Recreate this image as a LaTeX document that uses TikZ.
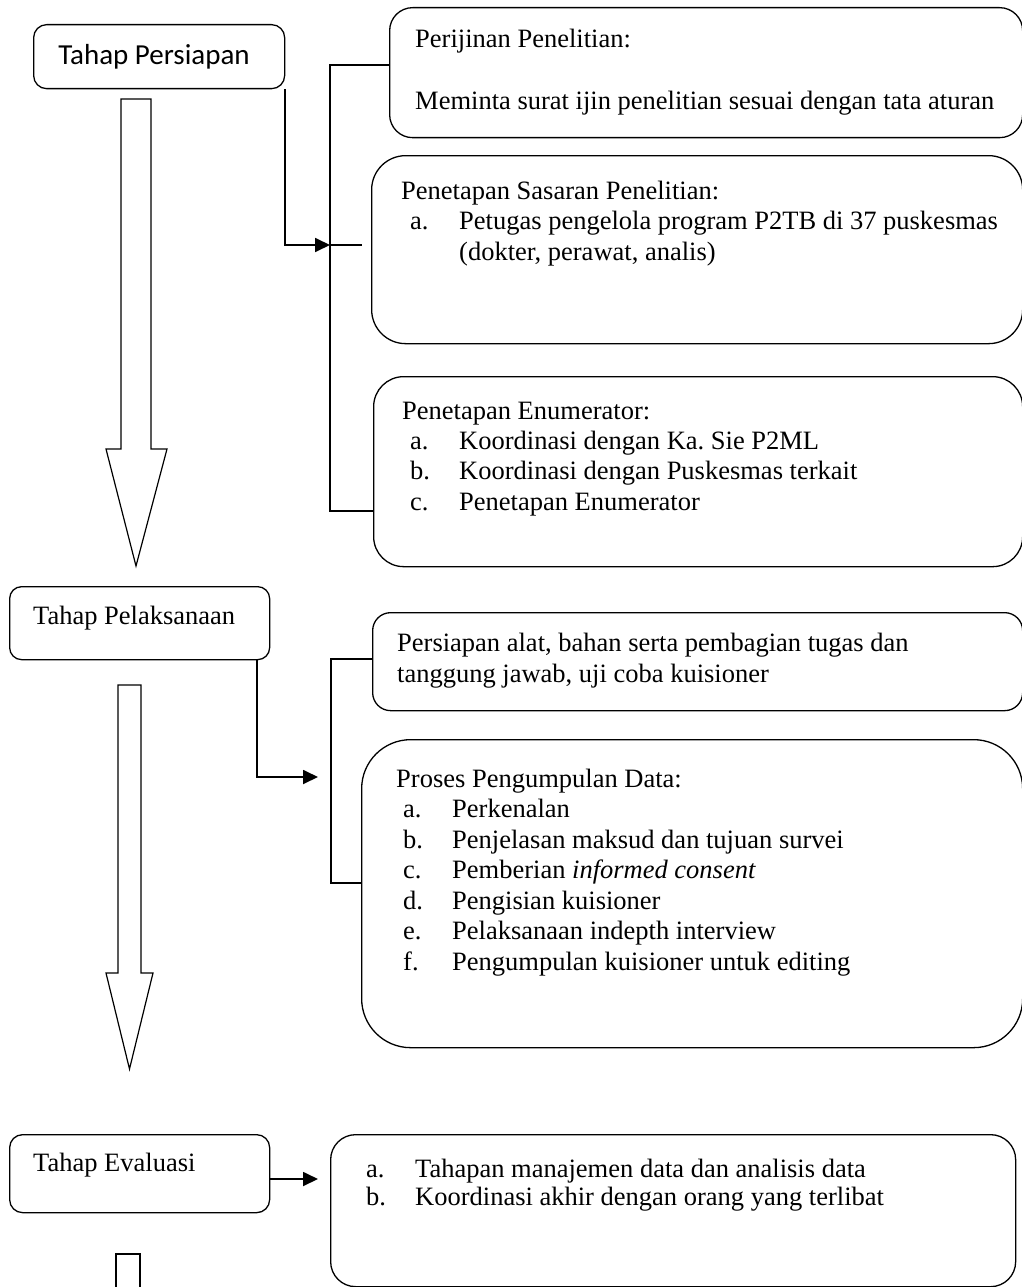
\documentclass[tikz,border=0pt]{standalone}
\usepackage{fontspec}
\setmainfont{Liberation Serif}
\newfontfamily\carlito{Carlito}
\usetikzlibrary{arrows.meta,calc}
\frenchspacing

\tikzset{
  stagebox/.style={draw, line width=1.3pt, inner sep=0pt, anchor=north west},
  infobox/.style={draw, line width=1.3pt, inner sep=0pt, anchor=north west},
  txt/.style={anchor=base west, inner sep=0pt, font=\fontsize{26.5}{30.5}\selectfont},
  stagetxt/.style={anchor=base, inner sep=0pt, font=\carlito\fontsize{29}{33}\selectfont},
  bracket/.style={line width=1.3pt},
  conn/.style={line width=1.8pt, -{Triangle[length=15pt,width=14pt]}},
  blockarrow/.style={draw, line width=1.2pt, line join=miter},
}

\begin{document}
\begin{tikzpicture}[x=1pt,y=-1pt]
\useasboundingbox (0,0) rectangle (1021,1287);

% ---- stage boxes (left column) ----
\node[stagebox, rounded corners=13pt, minimum width=251pt, minimum height=64pt] (tp) at (33,24) {};
\node[stagetxt] (tptxt) at (154,65) {Tahap Persiapan};

\node[stagebox, rounded corners=12pt, minimum width=260pt, minimum height=73pt] (tl) at (9,586) {};
\node[txt] (tltxt) at (33,624) {Tahap Pelaksanaan};

\node[stagebox, rounded corners=13pt, minimum width=260pt, minimum height=78pt] (te) at (9,1134) {};
\node[txt] (tetxt) at (33,1171.5) {Tahap Evaluasi};

% ---- block arrows between stages ----
\draw[blockarrow] (121,99) -- (151,99) -- (151,449) -- (167,449) -- (136,566)
  -- (106,449) -- (121,449) -- cycle;
\draw[blockarrow] (118,685) -- (141,685) -- (141,973) -- (153,973) -- (129.5,1069)
  -- (106,973) -- (118,973) -- cycle;
\draw[line width=1.2pt] (116,1300) -- (116,1254) -- (140,1254) -- (140,1300);

% ---- preparation detail boxes ----
\node[infobox, rounded corners=23pt, minimum width=633pt, minimum height=130pt] (b1) at (389,7) {};
\node[txt] (b1t) at (415,48) {Perijinan Penelitian:};
\node[txt] (b1l) at (415,110) {Meminta surat ijin penelitian sesuai dengan tata aturan};

\node[infobox, rounded corners=34pt, minimum width=651pt, minimum height=188pt] (b2) at (371,155) {};
\node[txt] (b2t) at (401,199) {Penetapan Sasaran Penelitian:};
\node[txt] (b2al) at (410,229.5) {a.};
\node[txt] (b2a) at (459,229.5) {Petugas pengelola program P2TB di 37 puskesmas};
\node[txt] (b2a2) at (459,260) {(dokter, perawat, analis)};

\node[infobox, rounded corners=30pt, minimum width=649pt, minimum height=190pt] (b3) at (373,376) {};
\node[txt] (b3t) at (402,419) {Penetapan Enumerator:};
\node[txt] (b3al) at (410,449) {a.};
\node[txt] (b3a) at (459,449) {Koordinasi dengan Ka. Sie P2ML};
\node[txt] (b3bl) at (410,479.5) {b.};
\node[txt] (b3b) at (459,479.5) {Koordinasi dengan Puskesmas terkait};
\node[txt] (b3cl) at (410,510) {c.};
\node[txt] (b3c) at (459,510) {Penetapan Enumerator};

% ---- implementation detail boxes ----
\node[infobox, rounded corners=18pt, minimum width=650pt, minimum height=98pt] (q1) at (372,612) {};
\node[txt] (q1a) at (397,651) {Persiapan alat, bahan serta pembagian tugas dan};
\node[txt] (q1b) at (397,682) {tanggung jawab, uji coba kuisioner};

\node[infobox, rounded corners=49pt, minimum width=661pt, minimum height=308pt] (q2) at (361,739) {};
\node[txt] (q2t) at (396,787) {Proses Pengumpulan Data:};
\node[txt] (q2al) at (403,817) {a.};
\node[txt] (q2a) at (452,817) {Perkenalan};
\node[txt] (q2bl) at (403,848) {b.};
\node[txt] (q2b) at (452,848) {Penjelasan maksud dan tujuan survei};
\node[txt] (q2cl) at (403,878.5) {c.};
\node[txt] (q2c) at (452,878.5) {Pemberian \textit{informed consent}};
\node[txt] (q2dl) at (403,909) {d.};
\node[txt] (q2d) at (452,909) {Pengisian kuisioner};
\node[txt] (q2el) at (403,939.5) {e.};
\node[txt] (q2e) at (452,939.5) {Pelaksanaan indepth interview};
\node[txt] (q2fl) at (403,970) {f.};
\node[txt] (q2f) at (452,970) {Pengumpulan kuisioner untuk editing};

% ---- evaluation detail box ----
\node[infobox, rounded corners=25pt, minimum width=685pt, minimum height=152pt] (b4) at (330,1134) {};
\node[txt] (b4al) at (366,1177) {a.};
\node[txt] (b4a) at (415,1177) {Tahapan manajemen data dan analisis data};
\node[txt] (b4bl) at (366,1205) {b.};
\node[txt] (b4b) at (415,1205) {Koordinasi akhir dengan orang yang terlibat};

% ---- brackets and connectors ----
\coordinate (k1t) at (330,65);
\coordinate (k1b) at (330,511);
\coordinate (k1m) at (330,245);
\coordinate (k1s) at (362,245);
\draw[bracket] (k1t -| b1.west) -- (k1t) -- (k1b) -- (k1b -| b3.west);
\draw[bracket] (k1m) -- (k1s);
\draw[conn] (tp.south east) |- (k1m);

\coordinate (k2t) at (331,659);
\coordinate (k2b) at (331,883);
\coordinate (k2a) at (318,777);
\draw[bracket] (k2t -| q1.west) -- (k2t) -- (k2b) -- (k2b -| q2.west);
\draw[conn] ($(tl.south east)+(-13,0)$) |- (k2a);

\coordinate (k3) at (318,1179);
\draw[conn] (te.east |- k3) -- (k3);
\end{tikzpicture}
\end{document}
